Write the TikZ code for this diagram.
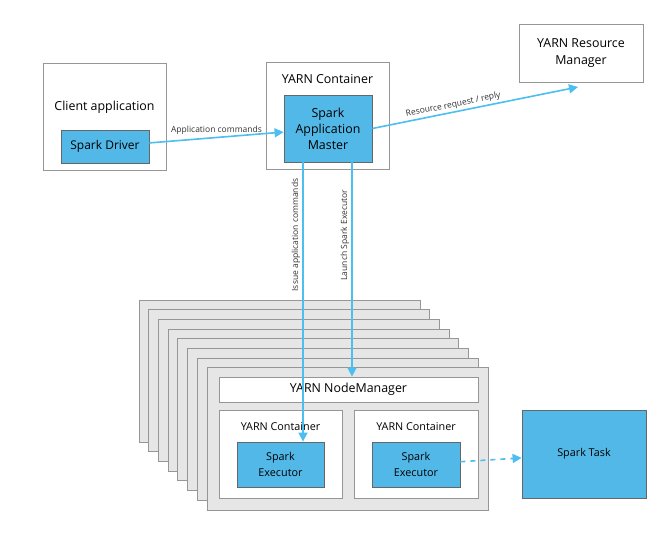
\documentclass[tikz,border=0pt]{standalone}
\usepackage{fontspec}
\setmainfont{Open Sans}
\usetikzlibrary{arrows.meta}

\definecolor{sparkblue}{RGB}{82,184,232}
\definecolor{arrowblue}{RGB}{77,190,240}
\definecolor{boxgray}{RGB}{150,150,150}
\definecolor{stackgray}{RGB}{230,230,230}

\tikzset{
  plainbox/.style={shape=rectangle,draw=boxgray,fill=white,line width=0.8pt,inner sep=0pt},
  sparkbox/.style={shape=rectangle,draw=black!60,fill=sparkblue,line width=0.8pt,inner sep=0pt,align=center,font=\fontsize{10.8}{16}\selectfont},
  stackbox/.style={shape=rectangle,draw=boxgray,fill=stackgray,line width=0.8pt,minimum width=281pt,minimum height=142pt},
  flow/.style={draw=arrowblue,line width=1.6pt,-{Triangle[length=9pt,width=9pt]}},
  flowlabel/.style={font=\fontsize{8.5}{10}\selectfont,text=black!80,inner sep=2pt}
}

\begin{document}
\begin{tikzpicture}[x=1pt,y=-1pt]
	    \useasboundingbox[fill=white] (0,0) rectangle (665,540);

	    % client side
	    \node[plainbox,minimum width=123pt,minimum height=107pt] (client) at (104.5,116.5) {};
	    \node[font=\fontsize{12.4}{14}\selectfont] (clientlbl) at (104.5,107) {Client application};
	    \node[sparkbox,minimum width=88pt,minimum height=33pt,font=\fontsize{12}{14}\selectfont] (driver) at (105,146.5) {Spark Driver};

	    % application master container
	    \node[plainbox,minimum width=123pt,minimum height=107pt] (amcont) at (327.5,116) {};
	    \node[font=\fontsize{12.4}{14}\selectfont] (amcontlbl) at (327.5,79) {YARN Container};
	    \node[sparkbox,minimum width=88pt,minimum height=67pt,font=\fontsize{12.4}{16}\selectfont] (master) at (328,128.5) {Spark\\Application\\Master};

	    % resource manager
	    \node[plainbox,minimum width=124pt,minimum height=58pt,align=center,font=\fontsize{12.4}{17}\selectfont] (rm) at (581,53) {YARN Resource\\Manager};

	    % stack of node managers
	    \foreach \i in {0,...,7}
	        \node[stackbox] (nmback\i) at (279.5+9.7*\i,371+9.7*\i) {};

	    \node[plainbox,minimum width=259pt,minimum height=25pt,font=\fontsize{12.4}{14}\selectfont] (nm) at (348.5,389.5) {YARN NodeManager};
	    \node[plainbox,minimum width=123pt,minimum height=88pt] (contL) at (280.5,454) {};
	    \node[plainbox,minimum width=124pt,minimum height=88pt] (contR) at (416,454) {};
	    \node[font=\fontsize{10.8}{13}\selectfont] (contLlbl) at (280.5,427) {YARN Container};
	    \node[font=\fontsize{10.8}{13}\selectfont] (contRlbl) at (416,427) {YARN Container};
	    \node[sparkbox,minimum width=87pt,minimum height=45pt] (execL) at (280.5,464.5) {Spark\\Executor};
	    \node[sparkbox,minimum width=88pt,minimum height=45pt] (execR) at (416,464.5) {Spark\\Executor};

	    % task
	    \node[sparkbox,minimum width=124pt,minimum height=88pt] (task) at (584,454) {Spark Task};

	    \coordinate (issueX) at (303,0);
	    \coordinate (launchX) at (352,0);
	    \coordinate (rmin) at (578,87);

	    \path [flow] (driver) -- node[flowlabel,above] {Application commands} (master);
	    \path [flow] (master.east) -- node[flowlabel,above,sloped,pos=0.4] {Resource request / reply} (rmin);
	    \path [flow] (master.south -| issueX) -- node[flowlabel,rotate=90,anchor=south,pos=0.26] {Issue application commands} (issueX |- execL.north);
	    \path [flow] (master.south -| launchX) -- node[flowlabel,rotate=90,anchor=south,pos=0.34] {Launch Spark Executor} (launchX |- nm.north);
	    \path [flow,dash pattern=on 5pt off 5pt] (execR) -- (task);
	\end{tikzpicture}
\end{document}
